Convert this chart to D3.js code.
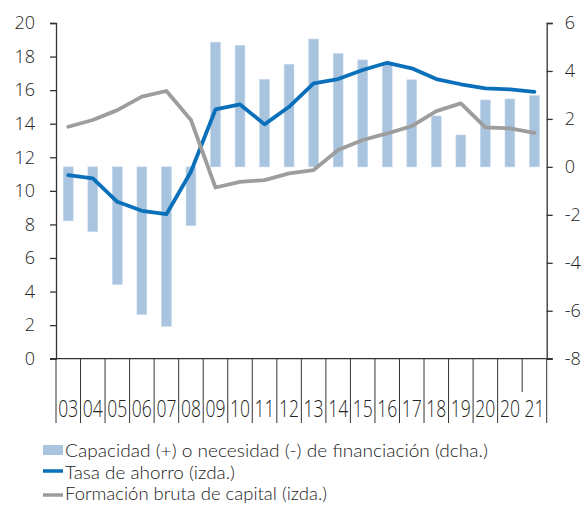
<!DOCTYPE html>
<html><head><meta charset="utf-8">
<script src="https://cdn.jsdelivr.net/npm/d3@7"></script>
<style>
html,body{margin:0;padding:0;background:#fff;}
svg{display:block;font-family:"Open Sans",sans-serif;font-weight:300;}
</style></head>
<body>
<svg id="c" width="585" height="506"></svg>
<script>
const labels = ["03","04","05","06","07","08","09","10","11","12","13","14","15","16","17","18","19","20","20","21"];
const capacidad = [-2.25,-2.7,-4.9,-6.15,-6.65,-2.45,5.2,5.07,3.65,4.28,5.33,4.72,4.46,4.35,3.63,2.12,1.33,2.79,2.83,2.97];
const tasaAhorro = [10.94,10.74,9.35,8.81,8.61,11.14,14.85,15.15,13.96,15.01,16.4,16.66,17.2,17.63,17.3,16.66,16.35,16.11,16.05,15.9];
const formacion = [13.82,14.22,14.81,15.61,15.95,14.22,10.2,10.54,10.64,11.04,11.24,12.43,13.03,13.42,13.86,14.75,15.21,13.78,13.72,13.46];
const leftTicks = [0,2,4,6,8,10,12,14,16,18,20];
const rightTicks = [-8,-6,-4,-2,0,2,4,6];
const legendItems = ["Capacidad (+) o necesidad (-) de financiación (dcha.)","Tasa de ahorro (izda.)","Formación bruta de capital (izda.)"];

const svg = d3.select("#c");
const X0 = 56, X1 = 546.7, YT = 23, YB = 358.7;
const idx = labels.map((d,i)=>i);
const x = d3.scaleBand().domain(idx).range([X0,X1]).paddingInner(0).paddingOuter(0);
const yL = d3.scaleLinear().domain([0,20]).range([YB,YT]);
const yR = d3.scaleLinear().domain([-8,6]).range([YB,YT]);
const axisCol = "#333";
const txtCol = "#222";

// bars
const bw = 9.8;
svg.append("g").selectAll("rect").data(capacidad).join("rect")
  .attr("x",(d,i)=>x(i)+x.bandwidth()/2-bw/2)
  .attr("width",bw)
  .attr("y",d=>Math.min(yR(d),yR(0)))
  .attr("height",d=>Math.abs(yR(d)-yR(0)))
  .attr("fill","#a9c4df")
  .attr("stroke","#c4d6ea").attr("stroke-width",0.6);

// lines
const mk = (arr)=>d3.line().x((d,i)=>x(i)+x.bandwidth()/2).y(d=>yL(d))(arr);
svg.append("path").attr("d",mk(tasaAhorro)).attr("fill","none").attr("stroke","#0a70b9").attr("stroke-width",3.8).attr("stroke-linejoin","round").attr("stroke-linecap","round");
svg.append("path").attr("d",mk(formacion)).attr("fill","none").attr("stroke","#9d9d9d").attr("stroke-width",3.8).attr("stroke-linejoin","round").attr("stroke-linecap","round");

// left axis
const la = svg.append("g").attr("transform",`translate(${X0},0)`)
  .call(d3.axisLeft(yL).tickValues(leftTicks).tickSize(6).tickPadding(15).tickFormat(d3.format("d")));
la.select(".domain").attr("stroke",axisCol).attr("stroke-width",1.3);
la.selectAll(".tick line").attr("stroke",axisCol).attr("stroke-width",1.3);
la.selectAll("text").attr("fill",txtCol).style("font-size","18px").style("font-family","'Open Sans',sans-serif").style("font-weight",300);

// right axis
const ra = svg.append("g").attr("transform",`translate(${X1},0)`)
  .call(d3.axisRight(yR).tickValues(rightTicks).tickSize(6).tickPadding(12).tickFormat(d=>d<0?"-"+Math.abs(d):d));
ra.select(".domain").attr("stroke",axisCol).attr("stroke-width",1.3);
ra.selectAll(".tick line").attr("stroke",axisCol).attr("stroke-width",1.3);
ra.selectAll("text").attr("fill",txtCol).style("font-size","18px").style("font-family","'Open Sans',sans-serif").style("font-weight",300);

// bottom baseline
svg.append("line").attr("x1",X0-6).attr("x2",X1+6).attr("y1",YB).attr("y2",YB).attr("stroke",axisCol).attr("stroke-width",1.3);

// category separator ticks
const bounds = d3.range(labels.length+1);
svg.append("g").selectAll("line").data(bounds).join("line")
  .attr("x1",i=>i<labels.length?x(i):X1).attr("x2",i=>i<labels.length?x(i):X1)
  .attr("y1",YB).attr("y2",i=>i===labels.length-1?392:423)
  .attr("stroke",axisCol).attr("stroke-width",1);

// category labels
svg.append("g").selectAll("text").data(labels).join("text")
  .attr("x",(d,i)=>x(i)+x.bandwidth()/2).attr("y",417)
  .attr("text-anchor","middle").attr("fill",txtCol)
  .style("font-size","23px")
  .attr("textLength",20).attr("lengthAdjust","spacingAndGlyphs")
  .text(d=>d);

// legend
const lg = svg.append("g");
const ly = [450,471,495];
lg.append("rect").attr("x",43).attr("y",445).attr("width",20).attr("height",10).attr("fill","#a9c4df");
lg.append("line").attr("x1",43).attr("x2",63).attr("y1",ly[1]).attr("y2",ly[1]).attr("stroke","#0a70b9").attr("stroke-width",3.5);
lg.append("line").attr("x1",43).attr("x2",63).attr("y1",ly[2]).attr("y2",ly[2]).attr("stroke","#9d9d9d").attr("stroke-width",3.5);
const lw = [423,170,262];
lg.selectAll("text").data(legendItems).join("text")
  .attr("x",65).attr("y",(d,i)=>[457,478.5,500][i])
  .attr("fill",txtCol).style("font-family","Lato,sans-serif").style("font-weight",300).style("font-size","17.8px")
  .attr("textLength",(d,i)=>lw[i]).attr("lengthAdjust","spacingAndGlyphs")
  .text(d=>d);
</script>
</body></html>
